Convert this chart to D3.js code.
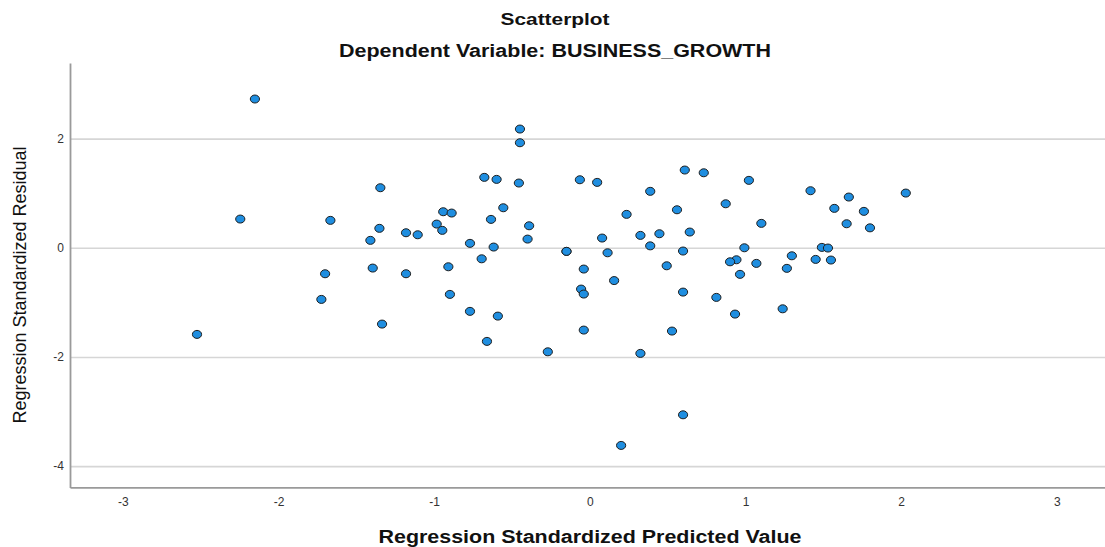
<!DOCTYPE html>
<html>
<head>
<meta charset="utf-8">
<script src="https://cdn.jsdelivr.net/npm/d3@7"></script>
<style>
    body { margin: 0; background: #fff; }
    text { font-family: "Liberation Sans", Arial, sans-serif; }
</style>
</head>
<body>
<div id="chart"></div>
<script>
// values
var predicted = [
    -2.152, -1.346, -2.246, -1.667, -1.352, -1.181, -1.106, -1.410, -0.942, -0.888,
    -0.984, -0.948, -1.701, -1.395, -1.181, -0.909, -1.725, -1.335, -2.524, -0.899,
    -0.449, -0.449, -0.678, -0.599, -0.456, -0.064, 0.047, 0.388, -0.556, 0.236,
    -0.635, -0.390, -0.400, 0.079, 0.325, 0.447, -0.770, -0.618, 0.388, -0.150,
    -0.150, 0.114, -0.695, -0.039, 0.156, -0.056, -0.039, -0.770, -0.591, -0.039,
    -0.661, -0.270, 0.325, 0.201, 0.610, 0.732, 1.022, 1.418, 1.664, 0.873,
    0.560, 1.571, 1.761, 1.102, 1.650, 1.800, 0.642, 0.599, 0.993, 1.491,
    1.530, 1.298, 0.942, 0.901, 1.070, 1.451, 1.549, 0.494, 1.266, 0.965,
    0.599, 0.813, 0.933, 1.239, 0.528, 0.599, 2.030
];
var residual = [
    2.725, 1.100, 0.526, 0.502, 0.356, 0.275, 0.238, 0.136, 0.660, 0.636,
    0.434, 0.319, -0.476, -0.372, -0.476, -0.348, -0.946, -1.398, -1.587, -0.854,
    2.175, 1.924, 1.290, 1.253, 1.186, 1.246, 1.198, 1.034, 0.733, 0.612,
    0.520, 0.403, 0.159, 0.178, 0.227, 0.257, 0.081, 0.013, 0.035, -0.066,
    -0.066, -0.092, -0.202, -0.390, -0.601, -0.757, -0.848, -1.165, -1.252, -1.508,
    -1.715, -1.906, -1.935, -3.621, 1.424, 1.374, 1.235, 1.045, 0.929, 0.806,
    0.696, 0.722, 0.667, 0.447, 0.440, 0.365, 0.288, -0.060, 0.000, 0.007,
    -0.005, -0.147, -0.220, -0.257, -0.286, -0.213, -0.225, -0.330, -0.377, -0.487,
    -0.812, -0.909, -1.215, -1.118, -1.526, -3.060, 1.002
];
var xTicks = [-3, -2, -1, 0, 1, 2, 3];
var yTicks = [-4, -2, 0, 2];

var title = "Scatterplot",
    subtitle = "Dependent Variable: BUSINESS_GROWTH",
    xLabel = "Regression Standardized Predicted Value",
    yLabel = "Regression Standardized Residual";

var width = 1105, height = 547;
var plot = { left: 70, right: 1105, top: 63, bottom: 487.4 };

var svg = d3.select("#chart")
    .append("svg")
    .attr("width", width)
    .attr("height", height);

var x = d3.scaleLinear()
    .domain([-3.34, 3.31])
    .range([plot.left, plot.right]);

var y = d3.scaleLinear()
    .domain([-4.39, 3.385])
    .range([plot.bottom, plot.top]);

// plain hyphen like the SPSS output, not the unicode minus
var fmt = d => String(d);

// horizontal grid lines
var grid = svg.append("g")
    .attr("transform", "translate(" + plot.left + ",0)")
    .call(d3.axisLeft(y).tickValues(yTicks).tickFormat("").tickSize(-(plot.right - plot.left)));
grid.select(".domain").remove();
grid.selectAll("line")
    .attr("stroke", "#d6d6d6")
    .attr("stroke-width", 1.6);

// axes
var xAxis = svg.append("g")
    .attr("transform", "translate(0," + plot.bottom + ")")
    .call(d3.axisBottom(x).tickValues(xTicks).tickFormat(fmt).tickSize(0).tickSizeOuter(0).tickPadding(10));

var yAxis = svg.append("g")
    .attr("transform", "translate(" + plot.left + ",0)")
    .call(d3.axisLeft(y).tickValues(yTicks).tickFormat(fmt).tickSize(0).tickSizeOuter(0).tickPadding(6));

[xAxis, yAxis].forEach(function (a) {
    a.select(".domain").attr("stroke", "#9a9a9a").attr("stroke-width", 1.8);
    a.selectAll("text")
        .style("font-family", "'Liberation Sans', Arial, sans-serif")
        .style("font-size", "12px")
        .attr("fill", "#333");
});

// points
svg.append("g")
    .selectAll("ellipse")
    .data(predicted.map(function (p, i) { return { p: p, r: residual[i] }; }))
    .enter()
    .append("ellipse")
    .attr("cx", d => x(d.p))
    .attr("cy", d => y(d.r))
    .attr("rx", 4.6)
    .attr("ry", 4)
    .attr("fill", "#1f8ee0")
    .attr("stroke", "#1e1e1e")
    .attr("stroke-width", 1);

// titles
svg.append("text")
    .attr("x", 555)
    .attr("y", 25)
    .attr("text-anchor", "middle")
    .attr("textLength", 109)
    .attr("lengthAdjust", "spacingAndGlyphs")
    .style("font-size", "17px")
    .style("font-weight", "bold")
    .attr("fill", "#111")
    .text(title);

svg.append("text")
    .attr("x", 555)
    .attr("y", 56.5)
    .attr("text-anchor", "middle")
    .attr("textLength", 432)
    .attr("lengthAdjust", "spacingAndGlyphs")
    .style("font-size", "18px")
    .style("font-weight", "bold")
    .attr("fill", "#111")
    .text(subtitle);

svg.append("text")
    .attr("x", 590)
    .attr("y", 543)
    .attr("text-anchor", "middle")
    .attr("textLength", 423)
    .attr("lengthAdjust", "spacingAndGlyphs")
    .style("font-size", "18px")
    .style("font-weight", "bold")
    .attr("fill", "#111")
    .text(xLabel);

svg.append("text")
    .attr("transform", "translate(26,285) rotate(-90)")
    .attr("text-anchor", "middle")
    .attr("textLength", 277)
    .attr("lengthAdjust", "spacingAndGlyphs")
    .style("font-size", "19px")
    .attr("fill", "#111")
    .text(yLabel);
</script>
</body>
</html>
